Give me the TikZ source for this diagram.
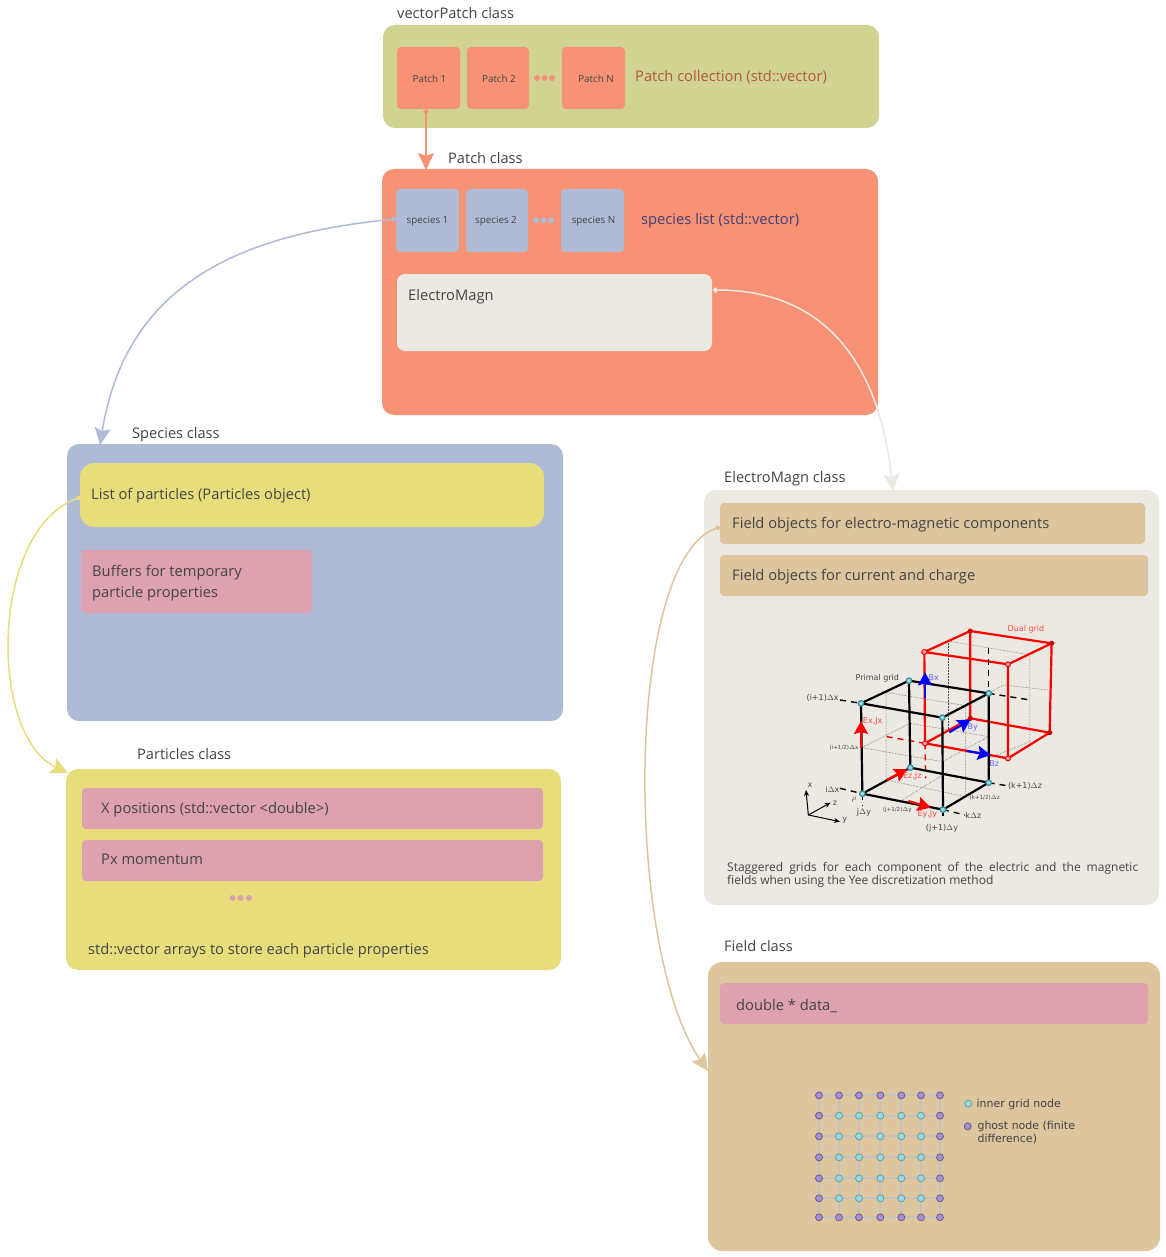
\documentclass[tikz,border=0pt]{standalone}
\usepackage{fontspec}
\setmainfont{Open Sans}
\newfontfamily\gridfont{DejaVu Sans}
\usetikzlibrary{arrows.meta}
\definecolor{cOlive}{HTML}{D0D490}
\definecolor{cOrange}{HTML}{F79274}
\definecolor{cBlue}{HTML}{AFBAD6}
\definecolor{cLight}{HTML}{ECE9E3}
\definecolor{cYellow}{HTML}{E7DE7B}
\definecolor{cPink}{HTML}{DDA1B0}
\definecolor{cTan}{HTML}{DDC59E}
\definecolor{cText}{HTML}{444444}
\definecolor{cRust}{HTML}{B5573A}
\definecolor{cNavy}{HTML}{3F3F78}
\definecolor{cRed}{HTML}{FF0000}
\definecolor{cGhost}{HTML}{A78FD6}
\definecolor{cInner}{HTML}{93DBE3}
\definecolor{cGridLine}{HTML}{C4C2BC}
\definecolor{cTeal}{HTML}{2E8C9E}
\definecolor{cTealFill}{HTML}{9FD8DE}
\newcommand{\rbox}[7]{\node[fill=#6,rounded corners=#7pt,inner sep=0pt,outer sep=0pt,anchor=north west,
  minimum width={(#4-#2)*1pt},minimum height={(#5-#3)*1pt}] (#1) at (#2,#3) {};}
\tikzset{
  title/.style={anchor=base west,inner sep=0pt,font=\fontsize{14.6}{17}\selectfont,text=cText},
  body/.style={anchor=base west,inner sep=0pt,font=\fontsize{14.7}{17}\selectfont,text=cText},
  tiny/.style={anchor=center,inner sep=0pt,font=\fontsize{9.8}{11}\selectfont,text=cText},
  dotnode/.style={circle,inner sep=0pt,minimum size=6pt,fill=#1},
  link/.style={draw=#1,line width=1.5pt,arrows={{Circle[length=5pt,width=5pt]}-{Stealth[length=17pt,width=16pt,inset=3pt]}}},
  cubelab/.style={inner sep=0pt,font=\gridfont\fontsize{8}{9}\selectfont,text=#1},
  cubelab/.default=cText,
  smalllab/.style={inner sep=0pt,font=\gridfont\fontsize{5.6}{6}\selectfont,text=#1},
  smalllab/.default=cText,
  prim/.style={draw=black,line width=2.2pt},
  dual/.style={draw=cRed,line width=2.2pt},
  thindot/.style={draw=black!70,line width=0.5pt,densely dotted},
  bdash/.style={draw=black,line width=1.4pt,dash pattern=on 6pt off 5pt},
  rdash/.style={draw=cRed,line width=1.4pt,dash pattern=on 6pt off 5pt},
  bigarrowR/.style={draw=cRed,line width=2.2pt,-{Stealth[length=13pt,width=14pt,inset=2pt]}},
  bigarrowB/.style={draw=blue,line width=2.2pt,-{Stealth[length=13pt,width=14pt,inset=2pt]}},
  axis/.style={draw=black,line width=1pt,-{Stealth[length=6pt,width=5pt]}},
  vertP/.style={circle,draw=cTeal,fill=cTealFill,line width=1.2pt,inner sep=0pt,minimum size=5.5pt},
  gridG/.style={circle,draw=cGhost!60!black,fill=cGhost,line width=0.7pt,inner sep=0pt,minimum size=7pt},
  gridI/.style={circle,draw=cInner!70!black,fill=cInner,line width=0.7pt,inner sep=0pt,minimum size=7pt},
  gridline/.style={draw=cGridLine,line width=2pt},
  legend/.style={anchor=base west,inner sep=0pt,align=left,font=\gridfont\fontsize{11}{13}\selectfont,text=cText},
}
\begin{document}
\begin{tikzpicture}[x=1pt,y=-1pt]
\useasboundingbox (0,0) rectangle (1166,1257);
\fill[white] (0,0) rectangle (1166,1257);
% vectorPatch
\rbox{vp}{383}{25}{879}{128}{cOlive}{12}
\rbox{p1}{397}{47}{460}{109}{cOrange}{4}
\rbox{p2}{467}{47}{529}{109}{cOrange}{4}
\rbox{pn}{562}{47}{625}{109}{cOrange}{4}
\node[tiny] (p1t) at ([xshift=1pt,yshift=-1pt]p1.center) {Patch 1};
\node[tiny] (p2t) at ([xshift=1pt,yshift=-1pt]p2.center) {Patch 2};
\node[tiny] (pnt) at ([xshift=2.5pt,yshift=-1pt]pn.center) {Patch N};
\node[dotnode=cOrange] (pd1) at (537,78) {};
\node[dotnode=cOrange] (pd2) at (544.5,78) {};
\node[dotnode=cOrange] (pd3) at (552,78) {};
\node[body,text=cRust] (pc) at (635,82) {Patch collection (std::vector)};
\node[title] (t1) at (397,19) {vectorPatch class};
% Patch class
\rbox{pa}{382}{169}{878}{415}{cOrange}{12}
\rbox{s1}{396}{189}{459}{252}{cBlue}{4}
\rbox{s2}{466}{189}{528}{252}{cBlue}{4}
\rbox{sn}{561}{189}{624}{252}{cBlue}{4}
\node[tiny] (s1t) at ([yshift=-1pt]s1.center) {species 1};
\node[tiny] (s2t) at ([xshift=-1pt,yshift=-1pt]s2.center) {species 2};
\node[tiny] (snt) at ([xshift=1pt,yshift=-1pt]sn.center) {species N};
\node[dotnode=cBlue] (sd1) at (536,220.5) {};
\node[dotnode=cBlue] (sd2) at (543.5,220.5) {};
\node[dotnode=cBlue] (sd3) at (551,220.5) {};
\node[body,text=cNavy] (sl) at (641,225) {species list (std::vector)};
\node[title] (t2) at (448,164) {Patch class};
\rbox{em}{397}{274}{712}{351}{cLight}{8}
\node[body] (emt) at (408,300) {ElectroMagn};
% Species class
\rbox{sp}{67}{444}{563}{721}{cBlue}{12}
\rbox{lp}{80}{463}{544}{527}{cYellow}{14}
\rbox{bf}{81}{550}{312}{613}{cPink}{4}
\node[title] (t3) at (132,438) {Species class};
\node[body] (lpt) at (91,499) {List of particles (Particles object)};
\node[body,align=left,font=\fontsize{14.7}{21}\selectfont] (bft) at (92,597) {Buffers for temporary\\particle properties};
% Particles class
\rbox{pr}{66}{769}{561}{970}{cYellow}{12}
\rbox{xp}{82}{788}{543}{829}{cPink}{4}
\rbox{mx}{82}{840}{543}{881}{cPink}{4}
\node[title] (t4) at (137,759) {Particles class};
\node[body] (xpt) at (101,813) {X positions (std::vector <double>)};
\node[body] (mxt) at (101,864) {Px momentum};
\node[dotnode=cPink] (kd1) at (232.5,898) {};
\node[dotnode=cPink] (kd2) at (240.5,898) {};
\node[dotnode=cPink] (kd3) at (249,898) {};
\node[body] (prt) at (88,954) {std::vector arrays to store each particle properties};
% ElectroMagn class
\rbox{ec}{704}{490}{1159}{905}{cLight}{12}
\rbox{f1}{720}{503}{1145}{544}{cTan}{4}
\rbox{f2}{720}{555}{1148}{596}{cTan}{4}
\node[title] (t5) at (724,482) {ElectroMagn class};
\node[body] (f1t) at (732,528) {Field objects for electro-magnetic components};
\node[body] (f2t) at (732,580) {Field objects for current and charge};
\node[anchor=north west,inner sep=0pt,text width=411pt,font=\fontsize{12}{13}\selectfont,text=cText,align=justify] (cap) at (727,862)
 {Staggered grids for each component of the electric and the magnetic\linebreak fields when using the Yee discretization method};
% Field class
\rbox{fc}{708}{962}{1160}{1251}{cTan}{14}
\rbox{dt}{720}{983}{1148}{1024}{cPink}{4}
\node[title] (t6) at (724,951) {Field class};
\node[body] (dtt) at (736,1010) {double * data\_};
% Connectors
\coordinate (a1) at (426,170);
\coordinate (a2) at (100,445);
\coordinate (a3) at (893,491);
\coordinate (a4) at (68,773);
\coordinate (a5) at (708,1071);
\coordinate (s1a) at (396,219);
\coordinate (ema) at (713,290);
\coordinate (lpa) at (81,497);
\coordinate (f1a) at (720,527);
\path[link=cOrange] (p1.south) ++(-2.5,0) coordinate (p1a) (p1a) -- (a1);
\path[link=cBlue] (s1a) .. controls (230,235) and (125,290) .. (a2);
\path[link=cLight] (ema) .. controls (830,290) and (880,370) .. (a3);
\path[link=cYellow] (lpa) .. controls (-10,530) and (-12,735) .. (a4);
\path[link=cTan] (f1a) .. controls (624,560) and (624,950) .. (a5);
% Cube, in zoom coordinates
\begin{scope}[shift={(790,615)},x=0.3333pt,y=-0.3333pt]
 \coordinate (A) at (213,265); \coordinate (B) at (357,197); \coordinate (C) at (596,235); \coordinate (D) at (457,308);
 \coordinate (E) at (217,536); \coordinate (F) at (361,458); \coordinate (G) at (596,503); \coordinate (H) at (459,584);
 \coordinate (a) at (403,111); \coordinate (b) at (541,48); \coordinate (c) at (785,85); \coordinate (d) at (654,148);
 \coordinate (e) at (405,385); \coordinate (f) at (541,310); \coordinate (g) at (779,353); \coordinate (h) at (654,430);
 % dotted guides
 \draw[thindot] (215,398) -- (360,325) -- (596,365) -- (457,440) -- cycle;
 \draw[thindot] (288,232) -- (527,272) -- (527,545) -- (288,495) -- cycle;
 \draw[thindot] (475,78) -- (720,120) -- (720,380) -- (595,430);
 \draw[thindot] (475,78) -- (475,345);
 \draw[thindot] (337,555) -- (475,470);
 \draw[thindot] (527,272) -- (640,210) -- (775,225);
 % dual cube
 \draw[dual] (a) -- (b) -- (c) -- (d) -- cycle;
 \draw[dual] (e) -- (f) -- (g) -- (h) -- cycle;
 \draw[dual] (a) -- (e) (b) -- (f) (c) -- (g) (d) -- (h);
 % dashes
 \draw[bdash] (150,255) -- (A);
 \draw[bdash] (C) -- (720,255);
 \draw[bdash] (596,100) -- (C);
 \draw[rdash] (290,365) -- (e);
 \draw[rdash] (e) -- (407,490);
 \draw[bdash] (150,520) -- (E);
 \draw[bdash] (E) -- (217,570);
 \draw[bdash] (H) -- (525,600);
 \draw[bdash] (H) -- (459,612);
 \draw[bdash] (G) -- (650,512);
 % primal cube
 \draw[prim] (A) -- (B) -- (C) -- (D) -- cycle;
 \draw[prim] (E) -- (F) -- (G) -- (H) -- cycle;
 \draw[prim] (A) -- (E) (B) -- (F) (C) -- (G) (D) -- (H);
 % vertices
 \foreach \v in {A,B,C,D,E,F,G,H} \node[vertP] (v\v) at (\v) {};
 \foreach \v in {a,d,e,h} \node[circle,draw=cRed,fill=cPink,line width=1pt,inner sep=0pt,minimum size=5pt] (w\v) at (\v) {};
 \foreach \v in {b,c,f,g} \node[circle,fill=cRed!80!black,inner sep=0pt,minimum size=5pt] (w\v) at (\v) {};
 % field arrows
 \draw[bigarrowR] (213,400) -- (213,318);
 \draw[bigarrowR] (290,495) -- (352,463);
 \draw[bigarrowR] (355,558) -- (422,578);
 \draw[bigarrowB] (405,250) -- (405,172);
 \draw[bigarrowB] (478,352) -- (542,314);
 \draw[bigarrowB] (530,408) -- (602,420);
 % axes
 \coordinate (O) at (55,600);
 \draw[axis] (O) -- (48,525);
 \draw[axis] (O) -- (122,563);
 \draw[axis] (O) -- (150,620);
 % labels
 \node[cubelab,text=cRed!70!white] at (708,44) {Dual grid};
 \node[cubelab] at (262,189) {Primal grid};
 \node[cubelab] at (98,250) {(i+1)$\Delta$x};
 \node[cubelab] at (127,524) {i$\Delta$x};
 \node[cubelab] at (192,555) {$\rho$};
 \node[cubelab] at (222,592) {j$\Delta$y};
 \node[cubelab] at (456,641) {(j+1)$\Delta$y};
 \node[cubelab] at (550,600) {k$\Delta$z};
 \node[cubelab] at (705,513) {(k+1)$\Delta$z};
 \node[smalllab] at (162,399) {(i+1/2)$\Delta$x};
 \node[smalllab] at (584,547) {(k+1/2)$\Delta$z};
 \node[smalllab] at (322,584) {(j+1/2)$\Delta$y};
 \node[cubelab=cRed!70!white] at (248,320) {Ex,Jx};
 \node[cubelab=cRed!70!white] at (367,485) {Ez,Jz};
 \node[cubelab=cRed!70!white] at (412,598) {Ey,Jy};
 \node[cubelab=blue!60!white] at (431,187) {Bx};
 \node[cubelab=blue!60!white] at (548,338) {By};
 \node[cubelab=blue!60!white] at (613,447) {Bz};
 \node[cubelab] at (60,510) {x};
 \node[cubelab] at (135,564) {z};
 \node[cubelab] at (164,616) {y};
\end{scope}
% Grid, in zoom coordinates
\begin{scope}[shift={(800,1080)},x=0.3333pt,y=-0.3333pt]
 \foreach \i/\x in {0/57,1/117,2/177,3/241,4/304,5/363,6/420}
  \foreach \j/\y in {0/46,1/107,2/169,3/232,4/295,5/355,6/412}
   \coordinate (gc-\i-\j) at (\x,\y);
 \foreach \i in {0,...,6} {
  \draw[gridline] (gc-\i-0) -- (gc-\i-6);
  \draw[gridline] (gc-0-\i) -- (gc-6-\i);
 }
 \foreach \i in {0,...,6} \foreach \j in {0,...,6} {
  \pgfmathtruncatemacro{\ing}{(\i>0)&&(\i<6)&&(\j>0)&&(\j<6)}
  \ifnum\ing=1 \node[gridI] (g-\i-\j) at (gc-\i-\j) {}; \else \node[gridG] (g-\i-\j) at (gc-\i-\j) {}; \fi
 }
 \node[gridI] (li) at (505,71) {};
 \node[gridG] (lg) at (503,139) {};
 \node[legend] (lit) at (529,83) {inner grid node};
 \node[legend] (lgt) at (532,188) {ghost node (finite\\difference)};
\end{scope}
\end{tikzpicture}
\end{document}
